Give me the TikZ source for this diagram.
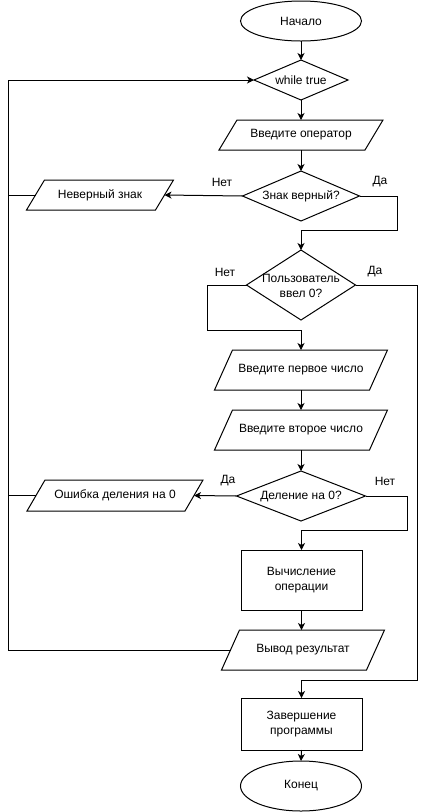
\documentclass[tikz,border=0pt]{standalone}
\usepackage{fontspec}
\setmainfont{Liberation Sans}
\usetikzlibrary{shapes.geometric,arrows.meta,calc}

% outline of an input/output block drawn over the named node's box
\newcommand{\iobox}[1]{%
  \draw[line] ([xshift=18pt]#1.north west) -- (#1.north east)
    -- ([xshift=-18pt]#1.south east) -- (#1.south west) -- cycle;}

\begin{document}
\begin{tikzpicture}[x=1pt,y=-1pt,
  every node/.style={font=\fontsize{12}{15}\selectfont, inner sep=0pt, outer sep=0pt},
  line/.style={line width=1pt, draw=black},
  arr/.style={line, -{Stealth[length=7pt,width=7pt,inset=2pt]}},
  term/.style={ellipse, draw, line width=1pt, minimum width=121pt, minimum height=40pt},
  proc/.style={rectangle, draw, line width=1pt, minimum width=121pt, align=center},
  dec/.style={diamond, draw, line width=1pt},
  io/.style={rectangle, align=center},
  txt/.style={align=center}
]
\useasboundingbox (0,0) rectangle (426,812);

% terminals, blocks and decisions
\node[term] (start) at (301,21) {Начало};

\node[dec, minimum width=94pt, minimum height=40pt] (wt) at (301,80) {};
\node[txt] (wtT) at (wt) {while true};

\node[io, minimum width=164pt, minimum height=30pt] (vo) at (301,135) {Введите оператор};
\iobox{vo}

\node[dec, minimum width=117pt, minimum height=50pt] (zv) at (301,196) {};
\node[txt] (zvT) at (zv) {Знак верный?};

\node[io, minimum width=147pt, minimum height=30pt] (nz) at (100,195) {Неверный знак};
\iobox{nz}

\node[dec, minimum width=109pt, minimum height=70pt] (pv) at (301,285) {};
\node[txt] (pvT) at ([yshift=-1pt]pv) {Пользователь\\ввел 0?};

\node[io, minimum width=173pt, minimum height=40pt] (p1) at (301,370) {Введите первое число};
\iobox{p1}

\node[io, minimum width=173pt, minimum height=40pt] (p2) at (301,430) {Введите второе число};
\iobox{p2}

\node[dec, minimum width=129pt, minimum height=50pt] (dz) at (301,496) {};
\node[txt] (dzT) at (dz) {Деление на 0?};

\node[io, minimum width=176pt, minimum height=31pt] (osh) at (115,495.5) {Ошибка деления на 0};
\iobox{osh}

\node[proc, minimum height=60pt] (calc) at (301.5,580) {Вычисление\\операции};

\node[io, minimum width=163pt, minimum height=40pt] (out) at (303,650) {Вывод результат};
\iobox{out}

\node[proc, minimum height=52pt] (fin) at (301.5,724) {Завершение\\программы};

\node[term, minimum height=50pt] (end) at (301,786) {Конец};

% branch labels
\node (l1) at (222,182) {Нет};
\node (l2) at (380,182) {Да};
\node (l3) at (225,272) {Нет};
\node (l4) at (375,272) {Да};
\node (l5) at (228,481) {Да};
\node (l6) at (385,481) {Нет};

% routing points
\coordinate (loopX) at (8,0);
\coordinate (zvR) at (397,230);
\coordinate (pvL) at (207,330);
\coordinate (pvR) at (417,680);
\coordinate (dzR) at (407,530);

% main flow
\draw[arr] (start.south) -- (wt.north);
\draw[arr] (wt.south) -- (vo.north);
\draw[arr] (vo.south) -- (zv.north);
\draw[arr] (zv.west) -- ([xshift=-9pt]nz.east);
\draw[arr] (zv.east) -| (zvR) -| (pv.north);
\draw[arr] (pv.west) -| (pvL) -| (p1.north);
\draw[arr] (pv.east) -| (pvR) -| (fin.north);
\draw[arr] (p1.south) -- (p2.north);
\draw[arr] (p2.south) -- (dz.north);
\draw[arr] (dz.west) -- ([xshift=-9pt]osh.east);
\draw[arr] (dz.east) -| (dzR) -| (calc.north);
\draw[arr] (calc.south) -- (calc.south |- out.north);
\draw[arr] (fin.south) -- (end.north);

% return loop to the start of the cycle
\draw[arr] ([xshift=9pt]out.west) -- (out.west -| loopX) |- (wt.west);
\draw[line] ([xshift=9pt]nz.west) -- (nz.west -| loopX);
\draw[line] ([xshift=9pt]osh.west) -- (osh.west -| loopX);
\end{tikzpicture}
\end{document}
